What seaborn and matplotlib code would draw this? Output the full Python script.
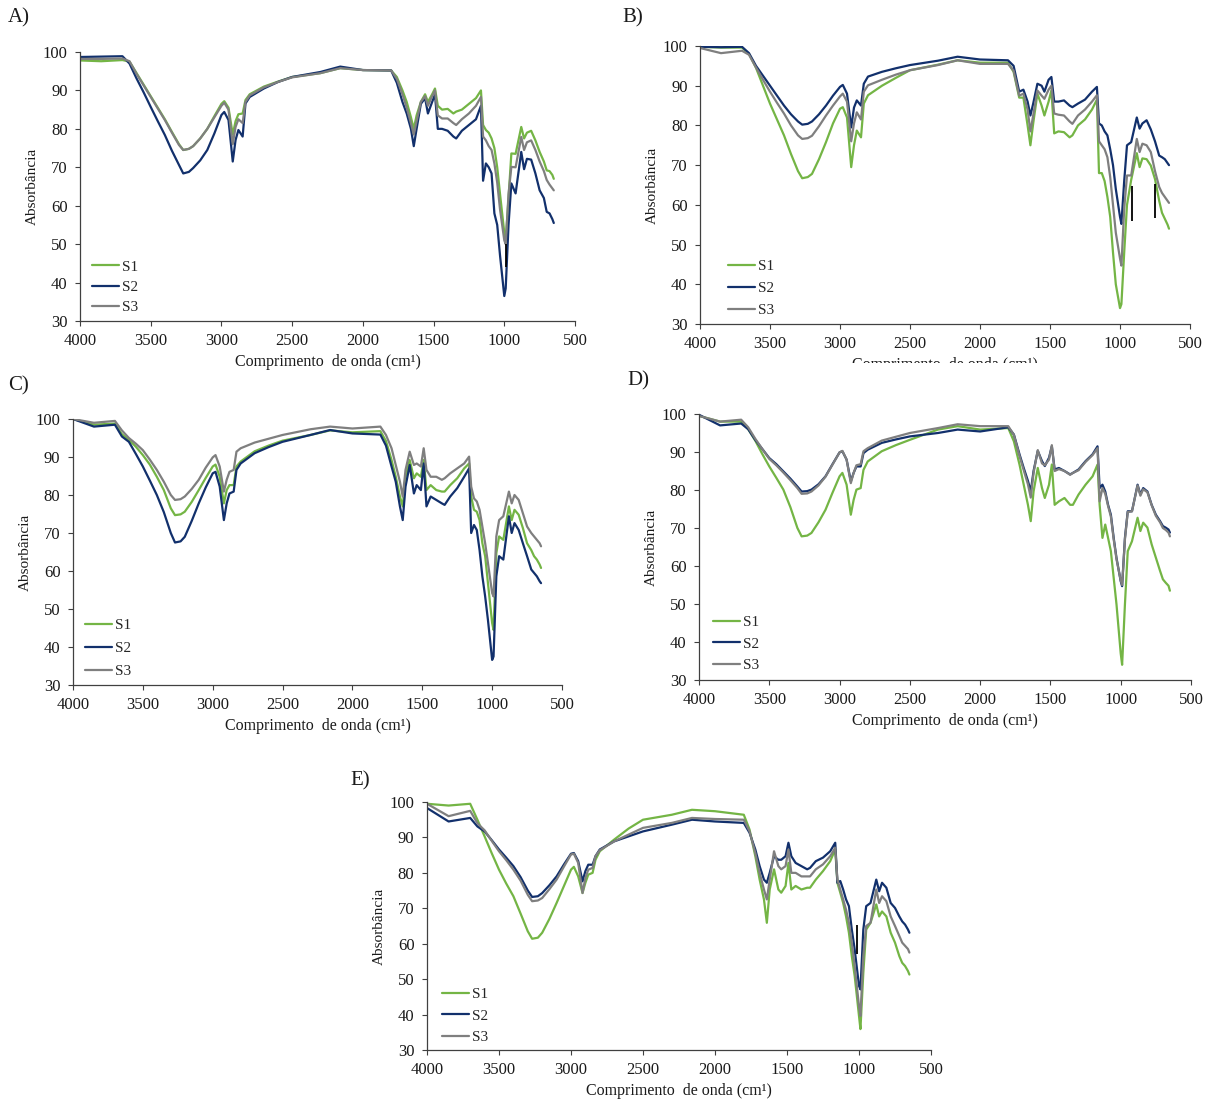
import pandas as pd
import numpy as np
import seaborn as sns
import matplotlib.pyplot as plt
from matplotlib.patches import Rectangle

import warnings
warnings.filterwarnings('ignore')

# eixo x comum (cm-1)
WN = [4000, 3850, 3700, 3650, 3600, 3550, 3500, 3450, 3400, 3350, 3300, 3270, 3230, 3200, 3150,
      3100, 3050, 3000, 2980, 2950, 2920, 2900, 2880, 2850, 2830, 2800, 2700, 2600, 2500, 2300,
      2160, 2000, 1800, 1760, 1720, 1690, 1660,
      1640, 1620, 1590, 1560, 1540, 1510, 1490, 1470, 1440, 1400, 1360, 1340, 1300, 1250, 1200,
      1165, 1150, 1130, 1110, 1090, 1070, 1050, 1030, 1000, 990, 970, 950, 920, 880, 860,
      840, 810, 780, 750, 720, 700, 680, 660, 650]

# A)
A_S1 = [97.8, 97.6, 97.9, 97.5, 94.5, 91.5, 88.5, 85.5, 82.5, 79.2, 76.0, 74.5, 74.8, 75.5, 77.5,
        80.0, 83.3, 86.5, 87.2, 85.5, 78.5, 82.0, 83.8, 84.0, 87.5, 89.0, 91.0, 92.3, 93.5, 94.5,
        95.8, 95.3,
        95.2, 93.5, 90.0, 87.0, 83.0, 80.0, 83.5, 87.0, 89.0, 87.0, 89.0, 90.5, 86.0, 85.0, 85.2,
        84.0, 84.5, 85.0, 86.5, 88.0, 90.0, 81.0, 79.7, 79.0, 77.5, 75.0, 70.0, 63.0, 53.0, 51.0,
        62.0, 73.6, 73.5, 80.5, 77.5, 79.0, 79.5, 77.0, 74.0, 71.5, 69.2, 69.0, 68.0, 67.0]
A_S2 = [98.7, 98.8, 98.9, 97.0, 93.1, 89.5, 85.7, 82.0, 78.4, 74.3, 70.6, 68.4, 68.8, 69.8, 71.8,
        74.5, 78.8, 83.6, 84.4, 82.3, 71.5, 77.1, 79.7, 78.0, 86.6, 88.3, 90.5, 92.2, 93.5, 94.8,
        96.2, 95.3,
        95.2, 92.0, 87.0, 84.0, 80.0, 75.5, 80.0, 86.5, 88.0, 84.0, 87.0, 89.0, 80.0, 80.0, 79.5,
        78.0, 77.5, 79.5, 81.0, 82.5, 86.0, 66.5, 71.0, 70.0, 68.4, 58.0, 55.0, 47.0, 36.5, 38.5,
        55.0, 65.8, 63.2, 74.0, 69.5, 72.2, 72.0, 68.4, 64.0, 62.0, 58.4, 58.0, 56.5, 55.5]
A_S3 = [98.2, 98.2, 98.3, 97.6, 94.3, 91.3, 88.3, 85.3, 82.3, 79.0, 75.8, 74.5, 74.8, 75.5, 77.5,
        80.0, 83.0, 86.0, 86.8, 85.0, 76.0, 80.5, 82.5, 81.5, 87.0, 88.7, 90.8, 92.2, 93.4, 94.5,
        95.8, 95.3,
        95.2, 93.0, 89.0, 85.5, 81.5, 78.5, 82.0, 87.0, 88.5, 86.0, 88.5, 90.0, 83.5, 82.7, 82.7,
        81.5, 81.0, 82.5, 84.0, 86.0, 88.3, 78.0, 77.0, 75.5, 74.5, 71.0, 66.0, 59.0, 51.0, 50.0,
        63.0, 70.1, 70.0, 77.9, 74.5, 76.5, 77.0, 74.5, 71.5, 69.0, 66.7, 65.5, 64.5, 64.0]

# B)
B_S1 = [99.8, 99.6, 99.6, 98.0, 94.5, 90.0, 85.5, 81.5, 77.5, 72.8, 68.5, 66.7, 67.0, 67.8, 71.5,
        75.8, 80.5, 84.2, 84.6, 82.0, 69.5, 75.0, 78.7, 77.0, 85.5, 87.6, 90.0, 92.0, 93.9, 95.3,
        96.4, 95.8,
        95.8, 93.5, 87.0, 87.0, 80.0, 75.0, 80.5, 88.0, 85.0, 82.5, 86.0, 88.8, 78.0, 78.5, 78.3,
        77.0, 77.5, 80.0, 81.5, 84.0, 86.5, 68.0, 68.0, 66.0, 62.0, 57.0, 48.0, 40.0, 34.0, 35.0,
        48.0, 60.0, 66.3, 73.0, 69.5, 71.7, 71.5, 69.9, 66.5, 61.0, 58.0, 56.5, 55.0, 54.0]
B_S2 = [99.8, 99.7, 99.8, 98.2, 95.0, 92.5, 90.0, 87.5, 85.0, 82.8, 81.0, 80.2, 80.4, 81.0, 82.8,
        85.0, 87.5, 89.7, 90.2, 88.0, 79.5, 84.5, 86.3, 85.0, 90.5, 92.3, 93.5, 94.4, 95.2, 96.3,
        97.3, 96.6,
        96.4, 95.0, 88.5, 89.0, 86.0, 82.5, 85.5, 90.5, 90.0, 88.5, 91.5, 92.2, 86.0, 86.0, 86.3,
        85.0, 84.6, 85.5, 86.5, 88.5, 89.7, 80.5, 80.0, 78.5, 77.5, 74.0, 70.0, 64.0, 57.0, 55.2,
        66.0, 75.0, 75.8, 82.0, 79.2, 80.5, 81.3, 79.0, 76.0, 72.4, 72.0, 71.5, 70.5, 70.0]
B_S3 = [99.5, 98.2, 98.8, 97.8, 94.6, 91.5, 88.5, 85.7, 83.0, 80.0, 77.5, 76.6, 76.8, 77.4, 79.8,
        82.5, 85.0, 87.3, 88.0, 86.0, 76.0, 80.5, 83.3, 81.5, 88.5, 90.1, 91.5, 92.8, 93.9, 95.2,
        96.4, 95.5,
        95.5, 93.8, 87.5, 88.0, 84.0, 78.5, 82.5, 88.8, 87.5, 86.7, 89.0, 90.0, 83.0, 82.7, 82.5,
        81.0, 80.4, 82.5, 84.0, 86.0, 87.6, 76.0, 75.0, 74.0, 72.0, 67.0, 60.0, 53.0, 46.5, 44.7,
        59.0, 67.4, 67.4, 76.6, 73.3, 75.4, 75.0, 73.3, 68.5, 64.5, 63.0, 62.0, 61.0, 60.5]

# C)
C_S1 = [100.0, 98.5, 98.8, 96.0, 94.5, 92.7, 90.5, 88.0, 84.8, 81.3, 76.5, 74.7, 74.9, 75.6, 78.2,
        81.3, 84.5, 87.5, 88.0, 84.8, 77.8, 81.3, 82.6, 82.6, 87.5, 88.8, 91.5, 93.0, 94.3, 95.8,
        97.0, 96.5,
        96.8, 94.2, 89.2, 84.8, 79.6, 77.0, 84.8, 89.2, 84.4, 85.7, 84.8, 89.2, 81.3, 82.6, 81.3,
        80.9, 80.9, 82.6, 84.4, 87.0, 88.3, 79.6, 76.1, 75.6, 73.4, 67.3, 63.9, 56.8, 46.3, 44.5,
        64.7, 69.1, 68.2, 77.0, 73.4, 76.1, 74.8, 71.3, 67.3, 65.5, 63.9, 63.0, 61.7, 60.8]
C_S2 = [100.0, 98.0, 98.5, 95.4, 94.0, 90.8, 87.5, 83.8, 80.0, 75.5, 70.0, 67.5, 67.8, 69.0, 73.2,
        77.8, 82.0, 85.7, 86.1, 82.2, 73.4, 77.8, 80.4, 80.9, 86.6, 88.3, 91.0, 92.6, 94.0, 95.8,
        97.1, 96.2,
        95.9, 93.0, 87.5, 83.5, 77.0, 73.4, 82.2, 87.9, 80.4, 82.6, 81.3, 88.3, 77.0, 79.6, 78.7,
        77.8, 77.4, 79.6, 81.8, 84.8, 87.0, 70.0, 72.1, 70.8, 65.5, 58.6, 53.3, 47.1, 36.6, 37.5,
        58.6, 63.9, 63.0, 74.4, 70.0, 72.6, 70.8, 67.3, 63.9, 60.4, 59.5, 58.6, 57.3, 56.8]
C_S3 = [100.0, 99.0, 99.5, 97.0, 95.0, 93.5, 91.8, 89.3, 86.6, 83.5, 80.0, 78.7, 78.9, 79.6, 81.6,
        84.0, 87.2, 89.9, 90.5, 87.5, 80.9, 84.0, 86.1, 86.6, 91.4, 92.3, 93.8, 94.8, 95.8, 97.3,
        98.0, 97.5,
        98.0, 95.8, 92.3, 87.9, 83.5, 79.6, 86.6, 91.4, 87.9, 88.3, 87.5, 92.3, 86.6, 84.8, 84.8,
        84.0, 84.4, 85.7, 87.0, 88.3, 90.1, 82.2, 79.1, 78.3, 76.1, 71.7, 67.3, 62.1, 54.2, 53.3,
        69.1, 73.4, 74.4, 80.9, 77.8, 80.0, 78.7, 75.2, 71.7, 70.0, 69.1, 68.2, 67.3, 66.5]

# D)
D_S1 = [99.5, 98.0, 98.0, 96.0, 93.0, 89.5, 86.2, 83.2, 80.1, 75.5, 70.0, 67.8, 68.0, 68.7, 71.5,
        74.8, 79.3, 83.6, 84.5, 81.4, 73.5, 77.4, 80.1, 80.5, 85.3, 87.5, 90.2, 91.8, 93.2, 95.9,
        96.8, 95.9,
        96.3, 92.8, 86.7, 81.4, 76.1, 71.8, 79.6, 85.8, 80.5, 77.9, 81.4, 86.7, 76.1, 77.0, 77.9,
        76.1, 76.1, 78.8, 81.4, 83.6, 86.7, 76.1, 67.4, 70.9, 67.4, 63.9, 56.9, 49.9, 37.0, 34.0,
        49.9, 63.9, 66.5, 72.7, 69.2, 71.4, 70.1, 65.7, 62.2, 58.7, 56.5, 55.6, 54.8, 53.5]
D_S2 = [99.8, 97.0, 97.5, 96.0, 93.2, 90.8, 88.4, 86.8, 84.9, 83.0, 80.9, 79.6, 79.7, 80.1, 81.5,
        83.6, 86.8, 89.9, 90.2, 88.0, 82.3, 84.5, 86.2, 86.2, 89.7, 90.6, 92.4, 93.3, 94.1, 95.0,
        95.9, 95.4,
        96.5, 94.6, 89.4, 85.8, 82.4, 79.6, 85.0, 90.3, 87.6, 86.3, 88.5, 91.5, 85.4, 85.8, 85.0,
        84.1, 84.5, 85.4, 87.6, 89.4, 91.5, 80.5, 81.4, 79.6, 76.1, 73.5, 67.4, 62.1, 56.0, 54.7,
        67.4, 74.4, 74.4, 81.4, 78.8, 80.5, 79.6, 76.1, 73.5, 71.8, 70.5, 70.1, 69.6, 68.8]
D_S3 = [99.5, 98.0, 98.5, 96.5, 93.5, 90.8, 88.2, 86.5, 84.6, 82.6, 80.5, 79.0, 79.1, 79.6, 81.2,
        83.5, 86.7, 89.9, 90.3, 88.0, 81.8, 84.5, 86.5, 86.8, 90.2, 91.0, 93.0, 94.0, 95.0, 96.3,
        97.3, 96.8,
        96.8, 94.5, 89.0, 85.2, 81.5, 78.0, 84.5, 90.5, 87.0, 86.5, 88.0, 91.8, 85.0, 85.5, 85.0,
        84.0, 84.5, 85.2, 87.4, 89.2, 91.0, 77.0, 80.5, 79.0, 75.8, 73.0, 67.0, 61.8, 56.2, 55.0,
        67.0, 74.2, 74.4, 81.2, 78.5, 80.2, 79.4, 76.0, 73.2, 71.5, 70.0, 69.5, 68.8, 67.8]

# E)
E_S1 = [99.5, 99.0, 99.5, 95.0, 90.3, 85.5, 80.9, 77.0, 73.4, 68.5, 63.5, 61.4, 61.7, 63.1, 67.0,
        71.5, 76.2, 80.9, 81.7, 79.0, 74.3, 77.2, 79.5, 80.0, 83.7, 86.1, 89.4, 92.5, 95.0, 96.4,
        97.8, 97.4,
        96.4, 92.2, 84.7, 78.1, 72.5, 65.9, 75.3, 81.0, 75.3, 74.4, 76.3, 82.8, 75.3, 76.3, 75.3,
        75.8, 75.8, 78.1, 80.5, 83.3, 86.6, 77.2, 74.4, 71.5, 67.7, 63.1, 56.5, 50.9, 39.6, 35.9,
        51.8, 64.0, 65.9, 71.1, 67.7, 69.1, 67.7, 63.1, 60.3, 56.5, 54.6, 53.7, 52.3, 51.3]
E_S2 = [98.3, 94.5, 95.5, 93.1, 91.7, 89.2, 86.6, 84.3, 81.9, 78.8, 75.0, 73.2, 73.4, 74.3, 76.5,
        79.0, 82.3, 85.4, 85.6, 83.3, 77.6, 80.5, 82.3, 82.3, 84.7, 86.6, 88.9, 90.3, 91.7, 93.6,
        95.0, 94.5,
        94.1, 91.3, 86.6, 81.9, 78.1, 77.2, 80.0, 84.7, 83.7, 83.7, 84.7, 88.5, 84.7, 82.8, 81.9,
        81.0, 81.4, 83.3, 84.3, 86.1, 88.5, 77.2, 77.7, 75.3, 72.5, 70.6, 64.0, 58.4, 48.1, 47.1,
        64.0, 70.6, 71.5, 78.1, 74.8, 77.2, 75.8, 71.5, 70.1, 67.7, 66.3, 65.4, 64.0, 63.1]
E_S3 = [99.5, 96.0, 97.5, 94.0, 92.0, 89.0, 86.1, 83.6, 80.9, 77.8, 73.8, 72.0, 72.2, 72.9, 75.4,
        78.1, 81.7, 85.2, 85.4, 82.8, 74.3, 78.6, 80.9, 81.4, 84.7, 86.4, 88.9, 90.8, 92.7, 94.1,
        95.5, 95.2,
        95.0, 91.7, 85.6, 80.0, 75.3, 72.5, 78.1, 86.1, 81.9, 81.0, 81.9, 86.6, 80.0, 80.0, 79.0,
        79.0, 79.0, 81.0, 82.4, 84.7, 87.1, 78.1, 75.3, 72.5, 69.6, 65.9, 60.3, 53.7, 42.4, 39.6,
        56.5, 65.0, 65.9, 75.3, 71.5, 73.4, 72.0, 67.7, 65.0, 62.2, 60.3, 59.4, 58.5, 57.5]

# tracinhos pretos (cm-1, y0, y1)
MARCAS = {'A': [(985, 44, 50)],
          'B': [(915, 56, 64.8), (752, 56.8, 65.2)],
          'C': [], 'D': [],
          'E': [(1016, 57, 65.4)]}

AMOSTRAS = ['S1', 'S2', 'S3']
CORES = {'S1': '#74b545', 'S2': '#12306c', 'S3': '#7f7f7f'}
XTICKS = [4000, 3500, 3000, 2500, 2000, 1500, 1000, 500]
YTICKS = [30, 40, 50, 60, 70, 80, 90, 100]
XLABEL = 'Comprimento  de onda (cm\u00b9)'
YLABEL = 'Absorbância'

sns.set_theme(style='white')
plt.rcParams['font.family'] = ['Liberation Serif', 'DejaVu Serif']

W, H = 1216, 1102
fig = plt.figure(figsize=(W / 100, H / 100), dpi=100)

# posicoes em pixels: esquerda, direita, topo, base ; legenda (x, y) em fracao do eixo
paineis = [
    ('A', (A_S1, A_S2, A_S3), (80, 575, 52, 321), (0.024, 0.026), 0.42, (8, 18)),
    ('B', (B_S1, B_S2, B_S3), (700, 1190, 46, 324), (0.057, 0.025), 0.55, (622, 18)),
    ('C', (C_S1, C_S2, C_S3), (73, 562, 419, 685), (0.025, 0.026), 0.6, (8, 386)),
    ('D', (D_S1, D_S2, D_S3), (699, 1191, 414, 680), (0.028, 0.03), 0.5, (627, 381)),
    ('E', (E_S1, E_S2, E_S3), (427, 931, 802, 1050), (0.03, 0.024), 0.5, (350, 781)),
]

for nome, series, (l, r, t, b), leg_pos, lspace, (tx, ty) in paineis:
    ax = fig.add_axes([l / W, 1 - b / H, (r - l) / W, (b - t) / H])
    n = len(WN)
    df = pd.DataFrame({'wn': WN * 3,
                       'abs': series[0] + series[1] + series[2],
                       'amostra': [a for a in AMOSTRAS for _ in range(n)]})
    sns.lineplot(data=df, x='wn', y='abs', hue='amostra', hue_order=AMOSTRAS,
                 palette=CORES, estimator=None, sort=False, linewidth=1.6, ax=ax)
    for x0, y0, y1 in MARCAS[nome]:
        ax.vlines(x0, y0, y1, color='black', lw=1.3, zorder=5)

    ax.set_xlim(4000, 500)
    ax.set_ylim(30, 100)
    ax.set_xticks(XTICKS)
    ax.set_yticks(YTICKS)
    sns.despine(ax=ax)
    for s in ['left', 'bottom']:
        ax.spines[s].set_color('#404040')
        ax.spines[s].set_linewidth(0.9)
    ax.tick_params(axis='both', direction='out', length=3.5, width=0.8, color='#404040',
                   labelsize=12, labelcolor='#1a1a1a', bottom=True, left=True)
    ax.tick_params(axis='x', pad=5)
    ax.tick_params(axis='y', pad=5.5)
    ax.set_xlabel(XLABEL, fontsize=11.5, color='#1a1a1a', labelpad=3.5)
    ax.set_ylabel(YLABEL, fontsize=11, color='#1a1a1a', labelpad=3)

    leg = ax.get_legend()
    handles = leg.legend_handles
    labels = [tt.get_text() for tt in leg.get_texts()]
    ax.legend(handles, labels, loc='lower left', bbox_to_anchor=leg_pos, frameon=False,
              borderpad=0, borderaxespad=0, handlelength=1.75, handletextpad=0.2,
              labelspacing=lspace, prop={'size': 11})

    fig.text(tx / W, 1 - ty / H, nome + ')', fontsize=15, color='#1a1a1a', va='center', ha='left')

# titulo do eixo x de B aparece cortado na figura original
fig.add_artist(Rectangle((780 / W, 1 - 380 / H), 340 / W, 17.5 / H, transform=fig.transFigure,
                         facecolor='white', edgecolor='none', zorder=10))

fig.savefig('out.png', dpi=100)
